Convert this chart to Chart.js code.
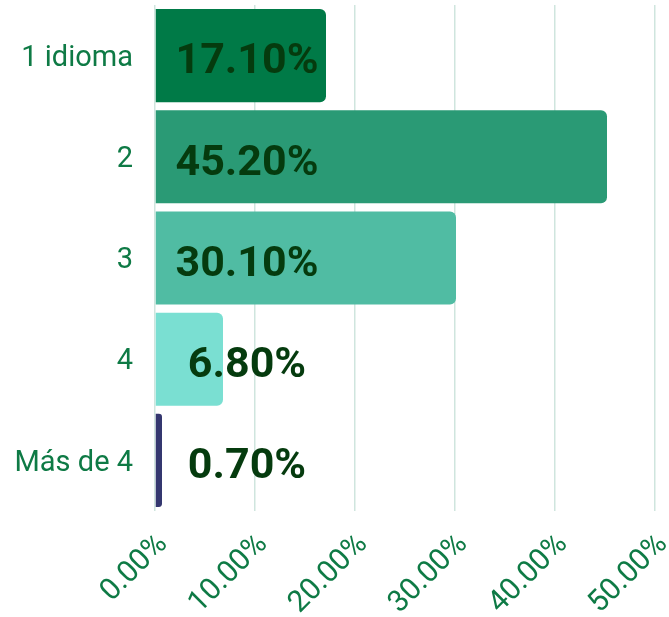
<!DOCTYPE html>
<html>
<head>
<meta charset="utf-8">
<script src="https://cdn.jsdelivr.net/npm/chart.js@4/dist/chart.umd.min.js"></script>
<style>
  html, body { margin: 0; padding: 0; background: #ffffff; }
  #wrap { width: 669px; height: 617px; position: relative; }
</style>
</head>
<body>
<div id="wrap"><canvas id="chart"></canvas></div>
<script>
const categories = ['1 idioma', '2', '3', '4', 'Más de 4'];
const shares = [17.1, 45.2, 30.1, 6.8, 0.7];
const barColors = ['#007a47', '#2a9a75', '#50bca3', '#7adfd2', '#34376f'];
const xTicks = [0, 10, 20, 30, 40, 50];

const FONT = 'Roboto, "Noto Sans", sans-serif';
const LABEL_OFFSET = 92;

function formatPct(v) {
  return `${v.toFixed(2)}%`;
}

// value labels, all centred on the same x near the start of the bars
const valueLabels = {
  id: 'valueLabels',
  afterDatasetsDraw(chart) {
    const { ctx } = chart;
    const meta = chart.getDatasetMeta(0);
    const x = chart.scales.x.left + LABEL_OFFSET;
    ctx.save();
    ctx.font = `bold 43px ${FONT}`;
    ctx.fillStyle = '#053b0e';
    ctx.textAlign = 'center';
    ctx.textBaseline = 'middle';
    meta.data.forEach((bar, i) => {
      ctx.fillText(formatPct(shares[i]), x, bar.y + 7);
    });
    ctx.restore();
  },
};

new Chart(document.getElementById('chart'), {
  type: 'bar',
  data: {
    labels: categories,
    datasets: [
      {
        data: shares,
        backgroundColor: barColors,
        borderWidth: 0,
        borderRadius: { topRight: 6, bottomRight: 6, topLeft: 0, bottomLeft: 0 },
        borderSkipped: false,
        categoryPercentage: 1,
        barPercentage: 0.92,
      },
    ],
  },
  options: {
    indexAxis: 'y',
    responsive: true,
    maintainAspectRatio: false,
    animation: false,
    layout: { padding: { top: 5, right: 14, left: 0, bottom: 0 } },
    scales: {
      x: {
        min: 0,
        max: 50,
        afterBuildTicks(scale) {
          scale.ticks = xTicks.map((value) => ({ value }));
        },
        afterFit(scale) {
          scale.height = 106;
          scale.paddingLeft = 0;
          scale.paddingRight = 0;
        },
        grid: { color: '#cfe5de', lineWidth: 1.5, drawTicks: false },
        border: { display: false },
        ticks: {
          minRotation: 45,
          maxRotation: 45,
          padding: 16,
          labelOffset: 8,
          color: '#0e7a45',
          font: { family: FONT, size: 30 },
          callback: (value) => formatPct(value),
        },
      },
      y: {
        afterFit(scale) {
          scale.width = 155;
          scale.paddingTop = 0;
          scale.paddingBottom = 0;
        },
        grid: { display: false, drawTicks: false },
        border: { display: false },
        ticks: {
          padding: 22,
          labelOffset: 3,
          color: '#0e7a45',
          font: { family: FONT, size: 29 },
        },
      },
    },
    plugins: {
      legend: { display: false },
      tooltip: { enabled: false },
    },
  },
  plugins: [valueLabels],
});
</script>
</body>
</html>
